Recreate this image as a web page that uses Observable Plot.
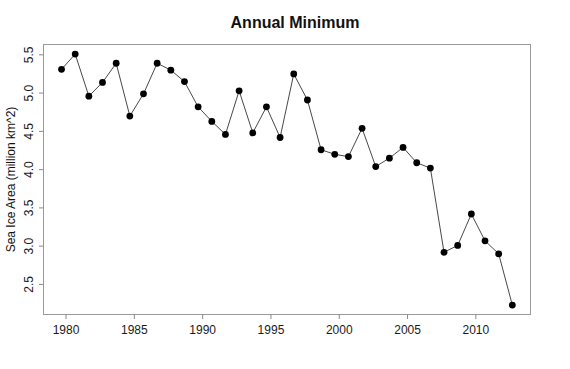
<!DOCTYPE html>
<html>
<head>
<meta charset="utf-8">
<script src="https://cdn.jsdelivr.net/npm/d3@7"></script>
<script src="https://cdn.jsdelivr.net/npm/@observablehq/plot@0.6"></script>
<style>
  html, body { margin: 0; padding: 0; background: #fff; }
  #chart svg { display: block; }
</style>
</head>
<body>
<div id="chart"></div>
<script>
const years = [1979, 1980, 1981, 1982, 1983, 1984, 1985, 1986, 1987, 1988,
               1989, 1990, 1991, 1992, 1993, 1994, 1995, 1996, 1997, 1998,
               1999, 2000, 2001, 2002, 2003, 2004, 2005, 2006, 2007, 2008,
               2009, 2010, 2011, 2012];
const seaIceArea = [5.31, 5.51, 4.96, 5.14, 5.39, 4.70, 4.99, 5.39, 5.30, 5.15,
                    4.82, 4.63, 4.46, 5.03, 4.48, 4.82, 4.42, 5.25, 4.91, 4.26,
                    4.20, 4.17, 4.54, 4.04, 4.15, 4.29, 4.09, 4.02, 2.92, 3.01,
                    3.42, 3.07, 2.90, 2.23];
// annual minimum occurs in September: fractional year of the observation
const minimumMonthFraction = 0.67;
const xTicks = [1980, 1985, 1990, 1995, 2000, 2005, 2010];
const yTicks = [2.5, 3.0, 3.5, 4.0, 4.5, 5.0, 5.5];
const title = "Annual Minimum";
const yLabel = "Sea Ice Area (million km^2)";

const data = years.map((y, i) => ({t: y + minimumMonthFraction, v: seaIceArea[i]}));
const fmt = d3.format(".1f");
const font = "'Liberation Sans', Arial, Helvetica, sans-serif";

const chart = Plot.plot({
  width: 570,
  height: 369,
  marginLeft: 43,
  marginRight: 40,
  marginTop: 44,
  marginBottom: 55,
  style: {fontFamily: font, background: "#fff", color: "#111"},
  x: {domain: [1978.35, 2014.0], axis: null},
  y: {domain: [2.107, 5.635], axis: null},
  marks: [
    Plot.frame({stroke: "#9a9a9a", strokeWidth: 1}),
    Plot.axisX(xTicks, {label: null, tickSize: 5, tickPadding: 6, stroke: "#8a8a8a", fill: "#1a1a1a", fontSize: 12, tickFormat: d => String(d)}),
    Plot.axisY(yTicks, {label: null, tickSize: 4, tickFormat: () => "", stroke: "#8a8a8a"}),
    Plot.text(yTicks, {y: d => d, text: d => fmt(d), frameAnchor: "left", dx: -14, rotate: -90, textAnchor: "middle", lineAnchor: "middle", fontSize: 12, fill: "#1a1a1a"}),
    Plot.text([yLabel], {frameAnchor: "left", dx: -32.5, rotate: -90, textAnchor: "middle", lineAnchor: "middle", fontSize: 12, fill: "#111"}),
    Plot.text([title], {frameAnchor: "top", dx: 8, dy: -22, lineAnchor: "middle", fontSize: 16, fontWeight: "bold", fill: "#111"}),
    Plot.line(data, {x: "t", y: "v", stroke: "#333", strokeWidth: 0.9}),
    Plot.dot(data, {x: "t", y: "v", r: 3.4, fill: "#000", stroke: "none"})
  ]
});
document.getElementById("chart").appendChild(chart);
</script>
</body>
</html>
